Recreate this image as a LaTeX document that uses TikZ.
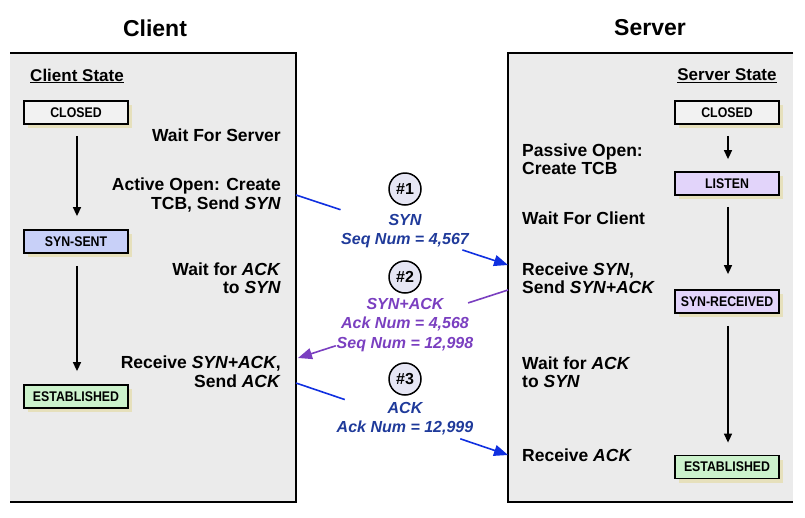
\documentclass[tikz,border=0pt]{standalone}
\usepackage{fontspec}
\setmainfont{Liberation Sans}
\newfontfamily\narrowfont[FakeStretch=0.88]{Liberation Sans}
\usetikzlibrary{arrows.meta,calc,shadows}
\definecolor{panelc}{HTML}{EBEBEB}
\definecolor{shadowc}{HTML}{E6E0BC}
\definecolor{closedc}{HTML}{F2F2F2}
\definecolor{sentc}{HTML}{C8D0F8}
\definecolor{listenc}{HTML}{E2D4FA}
\definecolor{estc}{HTML}{CCF2CC}
\definecolor{msgblue}{HTML}{1F3A9A}
\definecolor{lineblue}{HTML}{1030E0}
\definecolor{msgpurple}{HTML}{7A3FC0}
\definecolor{circc}{HTML}{E6E6F4}
\tikzset{
  statebox/.style={draw, line width=1.8pt, minimum width=104pt, minimum height=23pt, inner sep=0pt,
    font=\narrowfont\bfseries\fontsize{14}{16}\selectfont,
    drop shadow={fill=shadowc, shadow xshift=4pt, shadow yshift=-4pt, opacity=1}},
  statearrow/.style={line width=1.5pt, -{Triangle[length=9pt,width=8pt]}},
  ltext/.style={anchor=east, align=right, font=\bfseries\fontsize{17.5}{18.5}\selectfont, inner sep=0pt},
  rtext/.style={anchor=west, align=left, font=\bfseries\fontsize{17.5}{18.5}\selectfont, inner sep=0pt},
  title/.style={font=\bfseries\fontsize{23}{26}\selectfont},
  heading/.style={font=\bfseries\fontsize{17}{18}\selectfont, inner sep=0pt},
  numcirc/.style={circle, draw, line width=1.5pt, fill=circc, minimum size=32pt, inner sep=0pt,
    font=\bfseries\fontsize{16}{18}\selectfont},
  msg/.style={align=center, font=\bfseries\itshape\fontsize{16}{19.5}\selectfont, inner sep=0pt},
  msgline/.style={line width=1.6pt},
  msgarrow/.style={line width=1.6pt, -{Triangle[length=14pt,width=11pt]}},
}
\begin{document}
\begin{tikzpicture}[x=1pt,y=-1pt]
\useasboundingbox (0,0) rectangle (805,517);
% panels
\fill[panelc] (10,53) rectangle (296,502);
\fill[panelc] (508,53) rectangle (793,502);
\draw[line width=2.5pt] (10,53) -- (296,53) -- (296,502) -- (10,502);
\draw[line width=2.5pt] (793,53) -- (508,53) -- (508,502) -- (793,502);
% titles
\node[title] (ctitle) at (155,28) {Client};
\node[title] (stitle) at (650,28) {Server};
\node[heading] (chead) at (77,76) {\underline{Client State}};
\node[heading] (shead) at (727,76) {\underline{Server State}};
% client states
\node[statebox, fill=closedc] (cclosed) at (76,112.5) {CLOSED};
\node[statebox, fill=sentc] (csent) at (76,241.5) {SYN-SENT};
\node[statebox, fill=estc] (cest) at (76,396.5) {ESTABLISHED};
\draw[statearrow] ($(cclosed.south)+(1,11)$) -- ($(csent.north)+(1,-13)$);
\draw[statearrow] ($(csent.south)+(1,12)$) -- ($(cest.north)+(1,-13)$);
% server states
\node[statebox, fill=closedc] (sclosed) at (727,112.5) {CLOSED};
\node[statebox, fill=listenc] (slisten) at (727,183.5) {LISTEN};
\node[statebox, fill=listenc] (srecv) at (727,301.5) {SYN-RECEIVED};
\node[statebox, fill=estc] (sest) at (727,467) {ESTABLISHED};
\draw[statearrow] ($(sclosed.south)+(1,11)$) -- ($(slisten.north)+(1,-12)$);
\draw[statearrow] ($(slisten.south)+(1,11)$) -- ($(srecv.north)+(1,-15)$);
\draw[statearrow] ($(srecv.south)+(1,12)$) -- ($(sest.north)+(1,-12)$);
% client texts
\node[ltext] (t1) at (281,135) {Wait For Server};
\node[ltext] (t2) at (281,195) {Active Open: Create\\TCB, Send \textit{SYN}};
\node[ltext] (t3) at (281,278) {Wait for \textit{ACK}\\to \textit{SYN}};
\node[ltext] (t4) at (281,371.5) {Receive \textit{SYN+ACK},\\Send \textit{ACK}};
% server texts
\node[rtext] (u1) at (522,159) {Passive Open:\\Create TCB};
\node[rtext] (u2) at (522,218) {Wait For Client};
\node[rtext] (u3) at (522,278) {Receive \textit{SYN},\\Send \textit{SYN+ACK}};
\node[rtext] (u4) at (522,372) {Wait for \textit{ACK}\\to \textit{SYN}};
\node[rtext] (u5) at (522,455) {Receive \textit{ACK}};
% messages
\node[numcirc] (n1) at (405,189) {\#1};
\node[msg, text=msgblue] (m1) at (405,231) {SYN\\Seq Num = 4,567};
\node[numcirc] (n2) at (405,277) {\#2};
\node[msg, text=msgpurple] (m2) at (405,325) {SYN+ACK\\Ack Num = 4,568\\Seq Num = 12,998};
\node[numcirc] (n3) at (405,379) {\#3};
\node[msg, text=msgblue] (m3) at (405,418.5) {ACK\\Ack Num = 12,999};
% message arrows
\coordinate (a1) at (296,195);
\coordinate (b1) at (508,265);
\draw[msgline, lineblue] (a1) -- ($(a1)!0.21!(b1)$);
\draw[msgarrow, lineblue] ($(a1)!0.785!(b1)$) -- (b1);
\coordinate (a2) at (508,290);
\coordinate (b2) at (298,358);
\draw[msgline, msgpurple] (a2) -- ($(a2)!0.19!(b2)$);
\draw[msgarrow, msgpurple] ($(a2)!0.82!(b2)$) -- (b2);
\coordinate (a3) at (296,383);
\coordinate (b3) at (508,455);
\draw[msgline, lineblue] (a3) -- ($(a3)!0.23!(b3)$);
\draw[msgarrow, lineblue] ($(a3)!0.775!(b3)$) -- (b3);
\end{tikzpicture}
\end{document}
